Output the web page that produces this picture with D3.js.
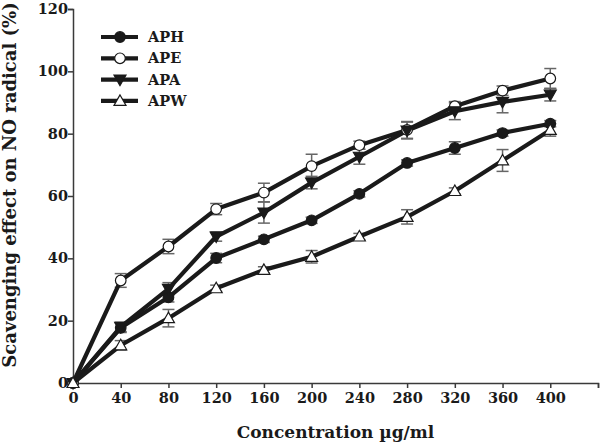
<!DOCTYPE html>
<html>
<head>
<meta charset="utf-8">
<script src="https://cdn.jsdelivr.net/npm/d3@7"></script>
<style>
  body { margin: 0; background: #fff; }
  text { font-family: "DejaVu Serif", serif; font-weight: bold; fill: #1a1a1a; }
</style>
</head>
<body>
<div id="chart"></div>
<script>
// concentrations (ug/ml)
const conc = [0, 40, 80, 120, 160, 200, 240, 280, 320, 360, 400];

const aph = [0, 17.7, 27.5, 40.1, 46.1, 52.2, 60.7, 70.6, 75.4, 80.2, 83.2];
const aphErr = [0, 1.5, 1.5, 1.5, 1, 1, 1, 1, 2, 1, 1];
const ape = [0, 32.9, 43.8, 55.8, 61.1, 69.6, 76.3, 81.2, 88.8, 93.8, 97.7];
const apeErr = [0, 2.2, 2.3, 1.8, 3, 3.8, 1.3, 2.7, 1.5, 1.5, 3.2];
const apa = [0, 18, 30.2, 47, 54.7, 64.3, 72.6, 81, 87.2, 90.2, 92.5];
const apaErr = [0, 1.5, 2, 1.5, 3.4, 2, 2.4, 2.7, 2.7, 3.5, 2];
const apw = [0, 12.1, 20.8, 30.4, 36.3, 40.5, 47, 53.3, 61.6, 71.4, 81.2];
const apwErr = [0, 1.5, 2.8, 1, 1, 2, 1, 2.3, 1, 3.5, 2];

const seriesNames = ["APH", "APE", "APA", "APW"];
const xTicks = [0, 40, 80, 120, 160, 200, 240, 280, 320, 360, 400];
const yTicks = [0, 20, 40, 60, 80, 100, 120];

const series = [
  {name: "APH", values: aph, err: aphErr, shape: "circle", fill: true},
  {name: "APE", values: ape, err: apeErr, shape: "circle", fill: false},
  {name: "APA", values: apa, err: apaErr, shape: "down", fill: true},
  {name: "APW", values: apw, err: apwErr, shape: "up", fill: false}
];

const W = 600, H = 445;
const margin = {top: 9, right: 2, bottom: 62, left: 73};
const width = W - margin.left - margin.right;
const height = H - margin.top - margin.bottom;

const svg = d3.select("#chart").append("svg")
    .attr("width", W)
    .attr("height", H);
const g = svg.append("g")
    .attr("transform", `translate(${margin.left},${margin.top})`);

const x = d3.scaleLinear().domain([0, 440]).range([0, width]);
const y = d3.scaleLinear().domain([0, 120]).range([height, 0]);

const ink = "#1a1a1a";
const axisCol = "#3a3a3a";

// axes
const xAxis = g.append("g")
    .attr("transform", `translate(0,${height})`)
    .call(d3.axisBottom(x).tickValues(xTicks.concat([440])).tickSize(5).tickPadding(5)
        .tickFormat(d => d === 440 ? "" : d));
const yAxis = g.append("g")
    .call(d3.axisLeft(y).tickValues(yTicks).tickSize(5).tickPadding(0));

[xAxis, yAxis].forEach(a => {
  a.select(".domain").attr("stroke", axisCol).attr("stroke-width", 1.5);
  a.selectAll(".tick line").attr("stroke", axisCol).attr("stroke-width", 1.5);
  a.selectAll(".tick text").attr("font-size", 14.5).attr("fill", ink)
      .style("font-family", "'DejaVu Serif', serif").style("font-weight", "bold");
});

// axis titles
svg.append("text")
    .attr("x", margin.left + width / 2)
    .attr("y", 438)
    .attr("text-anchor", "middle")
    .attr("font-size", 17)
    .text("Concentration µg/ml");

svg.append("text")
    .attr("transform", `translate(16,${margin.top + height / 2 - 11}) rotate(-90)`)
    .attr("text-anchor", "middle")
    .attr("font-size", 18)
    .text("Scavenging effect on NO radical (%)");

// markers
function drawMarker(sel, s, cx, cy) {
  const fill = s.fill ? ink : "#fff";
  if (s.shape === "circle") {
    sel.append("circle")
        .attr("cx", cx).attr("cy", cy).attr("r", 5.3)
        .attr("fill", fill).attr("stroke", ink).attr("stroke-width", 1.2);
  } else {
    const r = 6;
    const pts = s.shape === "up"
        ? [[cx, cy - r], [cx - r, cy + r * 0.75], [cx + r, cy + r * 0.75]]
        : [[cx, cy + r], [cx - r, cy - r * 0.75], [cx + r, cy - r * 0.75]];
    sel.append("polygon")
        .attr("points", pts.map(p => p.join(",")).join(" "))
        .attr("fill", fill).attr("stroke", ink).attr("stroke-width", 1.2);
  }
}

const line = d3.line()
    .x((d, i) => x(conc[i]))
    .y(d => y(d));

// error bars first
const errCol = "#666";
series.forEach(s => {
  const eg = g.append("g");
  s.values.forEach((v, i) => {
    if (!s.err[i]) return;
    const cx = x(conc[i]);
    const y1 = y(v + s.err[i]), y2 = y(v - s.err[i]);
    eg.append("line").attr("x1", cx).attr("x2", cx).attr("y1", y1).attr("y2", y2)
        .attr("stroke", errCol).attr("stroke-width", 1.5);
    [y1, y2].forEach(yy => eg.append("line")
        .attr("x1", cx - 6).attr("x2", cx + 6).attr("y1", yy).attr("y2", yy)
        .attr("stroke", errCol).attr("stroke-width", 1.5));
  });
});

// lines
series.forEach(s => {
  g.append("path")
      .datum(s.values)
      .attr("d", line)
      .attr("fill", "none")
      .attr("stroke", ink)
      .attr("stroke-width", 4.2)
      .attr("stroke-linejoin", "round");
});

// points
series.forEach(s => {
  const pg = g.append("g");
  s.values.forEach((v, i) => drawMarker(pg, s, x(conc[i]), y(v)));
});

// legend
const legend = svg.append("g").attr("transform", "translate(101,37)");
series.forEach((s, i) => {
  const row = legend.append("g").attr("transform", `translate(0,${i * 21.3})`);
  row.append("line").attr("x1", 0).attr("x2", 37).attr("y1", 0).attr("y2", 0)
      .attr("stroke", ink).attr("stroke-width", 4.2);
  drawMarker(row, s, 19, 0);
  row.append("text").attr("x", 47).attr("y", 5).attr("font-size", 14.5).text(seriesNames[i]);
});
</script>
</body>
</html>
